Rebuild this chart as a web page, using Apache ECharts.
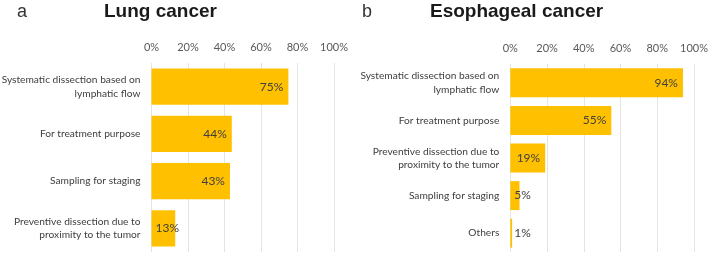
<!DOCTYPE html>
<html><head><meta charset="utf-8">
<script src="https://cdn.jsdelivr.net/npm/echarts@6/dist/echarts.min.js"></script>
<style>html,body{margin:0;padding:0;background:#fff}#c{width:709px;height:253px}</style>
</head><body><div id="c"></div>
<script>
const lungCategories = ["Systematic dissection based on\nlymphatic flow","For treatment purpose","Sampling for staging","Preventive dissection due to\nproximity to the tumor"];
const lungValues = [75, 44, 43, 13];
const esoCategories = ["Systematic dissection based on\nlymphatic flow","For treatment purpose","Preventive dissection due to\nproximity to the tumor","Sampling for staging","Others"];
const esoValues = [94, 55, 19, 5, 1];
const tickValues = [0, 20, 40, 60, 80, 100];
const panelLetters = ["a", "b"];
const panelTitles = ["Lung cancer", "Esophageal cancer"];

const FONT = '"Liberation Sans", Arial, sans-serif';
const LFONT = 'Lato, "Liberation Sans", sans-serif';
const chart = echarts.init(document.getElementById('c'));
function xAx(i){return {type:'value',gridIndex:i,position:'top',min:0,max:100,interval:20,
  axisLine:{show:false},axisTick:{show:false},
  axisLabel:{formatter:'{value}%',color:'#595959',fontSize:11,fontFamily:LFONT,margin:10},
  splitLine:{show:true,lineStyle:{color:'#e4e4e4',width:1}}};}
function yAx(i,cats){return {type:'category',gridIndex:i,data:cats,inverse:true,
  axisLine:{show:false},axisTick:{show:false},
  axisLabel:{color:'#404040',fontSize:10.2,fontFamily:LFONT,margin:11,lineHeight:13.5,align:'right'}};}
function ser(i,vals){return {type:'bar',xAxisIndex:i,yAxisIndex:i,barCategoryGap:'23%',
  itemStyle:{color:'#FFC000'},
  data:vals.map(v=>({value:v,label:{position:v<15?'insideLeft':'insideRight',distance:v<15?4:5}})),
  label:{show:true,formatter:'{c}%',color:'#404040',fontSize:12,fontFamily:LFONT}};}
chart.setOption({
  animation:false,
  grid:[{left:151.5,right:375,top:63,bottom:1,containLabel:false,outerBoundsMode:'none'},
        {left:510.3,right:15,top:64,bottom:1,containLabel:false,outerBoundsMode:'none'}],
  xAxis:[xAx(0),xAx(1)],
  yAxis:[yAx(0,lungCategories),yAx(1,esoCategories)],
  series:[ser(0,lungValues),ser(1,esoValues)],
  graphic:[
    {type:'text',left:17,top:3,style:{text:panelLetters[0],font:'18px '+FONT,fill:'#333'}},
    {type:'text',left:104,top:2,style:{text:panelTitles[0],font:'bold 19px '+FONT,fill:'#1a1a1a'}},
    {type:'text',left:362,top:3,style:{text:panelLetters[1],font:'18px '+FONT,fill:'#333'}},
    {type:'text',left:430,top:2,style:{text:panelTitles[1],font:'bold 19px '+FONT,fill:'#1a1a1a'}}
  ]
});
</script></body></html>
